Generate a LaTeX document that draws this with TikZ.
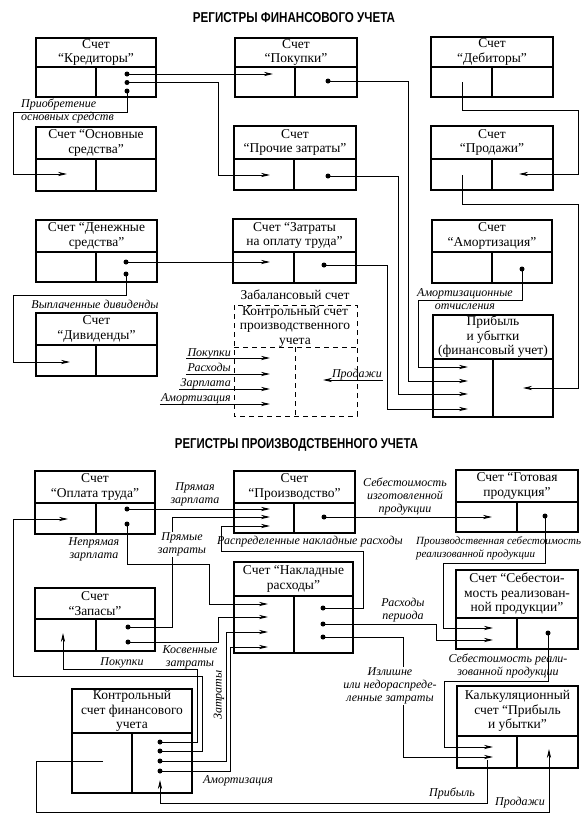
\documentclass[tikz,border=0pt]{standalone}
\usepackage{fontspec}
\setmainfont{Liberation Serif}
\newfontfamily\titlefont{Liberation Sans}
\usepackage{graphicx}
\usetikzlibrary{arrows.meta}
\tikzset{
 boxline/.style={line width=1.3pt},
 conn/.style={line width=0.8pt},
 arr/.style={conn,-{Stealth[length=9pt,width=4.2pt]}},
 dot/.style={circle,fill,inner sep=0pt,minimum size=5pt},
 boxtext/.style={align=center,font=\fontsize{13.5}{14.5}\selectfont,inner sep=0pt},
 lab/.style={align=center,font=\itshape\fontsize{12}{13}\selectfont,inner sep=1pt},
 wlab/.style={lab,fill=white},
 dashbox/.style={line width=0.8pt,dash pattern=on 5pt off 4pt},
 titlenode/.style={inner sep=0pt},
}
% name, x1, y1, x2, y2, y of header line, x of column line, text
\newcommand\acct[8]{%
 \draw[boxline] (#2,#3) rectangle (#4,#5);
 \draw[boxline] (#2,#6) -- (#4,#6) (#7,#6) -- (#7,#5);
 \node[boxtext] (#1) at ({(#2+#4)/2},{(#3+#6)/2}) {#8};
}
\begin{document}
\begin{tikzpicture}[x=1pt,y=-1pt]
\useasboundingbox (0,0) rectangle (587,820);
\fill[white] (0,0) rectangle (587,820);

%================ TOP =================
\node[titlenode] (title1) at (294,18) {\resizebox{202pt}{10pt}{\titlefont\bfseries РЕГИСТРЫ ФИНАНСОВОГО УЧЕТА}};

\acct{kred}{36}{38}{156}{97}{67}{96}{Счет\\“Кредиторы”}
\acct{pok}{235}{38}{357}{97}{67}{295}{Счет\\“Покупки”}
\acct{deb}{431}{37}{553}{97}{67}{492}{Счет\\“Дебиторы”}
\acct{osn}{36}{127}{156}{191}{159}{96}{Счет “Основные\\средства”}
\acct{proch}{234}{126}{356}{190}{159}{294}{Счет\\“Прочие затраты”}
\acct{prod}{431}{126}{553}{190}{159}{492}{Счет\\“Продажи”}
\acct{den}{36}{220}{157}{282}{252}{96}{Счет “Денежные\\средства”}
\acct{ztr}{233}{219}{356}{283}{252}{294}{Счет “Затраты\\на оплату труда”}
\acct{amo}{432}{220}{552}{283}{252}{492}{Счет\\“Амортизация”}
\acct{divd}{36}{313}{157}{376}{345}{96}{Счет\\“Дивиденды”}
\acct{pu}{433}{315}{553}{417}{359}{493}{Прибыль\\и убытки\\(финансовый учет)}

% dashed control account
\node (zabal) at (295,295) {\fontsize{13.5}{14.5}\selectfont Забалансовый счет};
\draw[dashbox] (234,305) rectangle (357,416);
\draw[dashbox] (234,347) -- (357,347);
\draw[dashbox] (295,347) -- (295,416);
\node[boxtext] (kps) at (295,326.5) {Контрольный счет\\производственного\\учета};

% dots
\node[dot] (kr1) at (127,74) {};
\node[dot] (kr2) at (127,82.5) {};
\node[dot] (kr3) at (127,91) {};
\node[dot] (pk1) at (328,81) {};
\node[dot] (pr1) at (328,176) {};
\node[dot] (zt1) at (324,265) {};
\node[dot] (am1) at (522,269) {};
\node[dot] (dn1) at (126,262) {};
\node[dot] (dn2) at (126,274) {};
\coordinate (db1) at (462,82);
\coordinate (pd1) at (462,175);

\draw[arr] (kr1.center) -- (273,74);
\draw[arr] (kr2.center) -- (218,82.5) -- (218,175) -- (270,175);
\draw[arr] (kr3.center) -- (127,112) -- (13,112) -- (13,174) -- (67,174);
\draw[arr] (pk1.center) -- (408,81) -- (408,381) -- (468,381);
\draw[arr] (pr1.center) -- (398,176) -- (398,394) -- (468,394);
\draw[arr] (zt1.center) -- (387,265) -- (387,409) -- (468,409);
\draw[arr] (am1.center) -- (522,300) -- (418,300) -- (418,367) -- (468,367);
\draw[arr] (db1) -- (462,110) -- (578,110) -- (578,174) -- (519,174);
\draw[arr] (pd1) -- (462,204) -- (578,204) -- (578,388) -- (523,388);
\draw[arr] (dn1.center) -- (270,262);
\draw[arr] (dn2.center) -- (126,295) -- (13,295) -- (13,362) -- (70,362);

\node[lab,align=left,anchor=west] (lpr) at (20,110.5) {Приобретение\\основных средств};
\node[lab] (lam) at (465,299) {Амортизационные\\отчисления};
\node[lab] (lvd) at (95,304) {Выплаченные дивиденды};

% inputs to dashed account
\node[lab,anchor=base east] (ip1) at (232,356) {Покупки};
\node[lab,anchor=base east] (ip2) at (232,371.5) {Расходы};
\node[lab,anchor=base east] (ip3) at (232,386.5) {Зарплата};
\node[lab,anchor=base east] (ip4) at (232,401.5) {Амортизация};
\coordinate (iy1) at (0,358);
\coordinate (iy2) at (0,374);
\coordinate (iy3) at (0,389);
\coordinate (iy4) at (0,404);
\draw[arr] (ip1.west |- iy1) -- (270,358);
\draw[arr] (ip2.west |- iy2) -- (270,374);
\draw[arr] (ip3.west |- iy3) -- (270,389);
\draw[arr] (ip4.west |- iy4) -- (270,404);
\node[lab,anchor=base east] (ipd) at (383,377.5) {Продажи};
\coordinate (iy5) at (0,380);
\draw[arr] (ipd.east |- iy5) -- (323,380);

%================ BOTTOM =================
\node[titlenode] (title2) at (296.5,445) {\resizebox{243pt}{10pt}{\titlefont\bfseries РЕГИСТРЫ ПРОИЗВОДСТВЕННОГО УЧЕТА}};

\acct{opl}{35}{471}{155}{534}{503}{96}{Счет\\“Оплата труда”}
\acct{proizv}{234}{471}{355}{533}{503}{294}{Счет\\“Производство”}
\acct{got}{456}{470}{578}{532}{502}{517}{Счет “Готовая\\продукция”}
\acct{zap}{35}{588}{155}{651}{619}{96}{Счет\\“Запасы”}
\acct{nakl}{234}{562}{353}{653}{596}{294}{Счет “Накладные\\расходы”}
\acct{seb}{456}{570}{578}{649}{618}{517}{Счет “Себестои-\\мость реализован-\\ной продукции”}
\acct{kontr}{72}{689}{192}{793}{733}{132}{Контрольный\\счет финансового\\учета}
\acct{kalk}{457}{686}{578}{768}{736}{517}{Калькуляционный\\счет “Прибыль\\и убытки”}

\node[dot] (op1) at (127,509) {};
\node[dot] (op2) at (127,524) {};
\node[dot] (zp1) at (128,627) {};
\node[dot] (zp2) at (128,642) {};
\node[dot] (pz1) at (324,517) {};
\node[dot] (nk1) at (323,608) {};
\node[dot] (nk2) at (323,624) {};
\node[dot] (nk3) at (323,637) {};
\node[dot] (gt1) at (545,516) {};
\node[dot] (sb1) at (548,633) {};
\node[dot] (kf1) at (160,742) {};
\node[dot] (kf2) at (160,751) {};
\node[dot] (kf3) at (160,761) {};
\node[dot] (kf4) at (160,771) {};
\coordinate (kl1) at (487,760);
\coordinate (kfl) at (103,761);

\draw[arr] (op1.center) -- (270,509);
\draw[arr] (op2.center) -- (127,564) -- (209,564) -- (209,604) -- (268,604);
\draw[arr] (zp1.center) -- (172,627) -- (172,517) -- (270,517);
\draw[arr] (zp2.center) -- (218,642) -- (218,617) -- (268,617);
\draw[arr] (pz1.center) -- (492,517);
\draw[arr] (nk1.center) -- (363,608) -- (363,551) -- (221,551) -- (221,526) -- (270,526);
\draw[arr] (nk2.center) -- (436,624) -- (436,640) -- (493,640);
\draw[arr] (nk3.center) -- (403,637) -- (403,757) -- (493,757);
\draw[arr] (gt1.center) -- (545,563) -- (443,563) -- (443,628) -- (493,628);
\draw[arr] (sb1.center) -- (548,681) -- (444,681) -- (444,747) -- (493,747);
\draw[arr] (kf1.center) -- (197,742) -- (197,669) -- (63,669) -- (63,633);
\draw[arr] (kf2.center) -- (202,751) -- (202,676) -- (13,676) -- (13,519) -- (68,519);
\draw[arr] (kf3.center) -- (226,761) -- (226,632) -- (268,632);
\draw[arr] (kf4.center) -- (230,771) -- (230,647) -- (268,647);
\draw[arr] (kl1) -- (487,803) -- (160,803) -- (160,780);
\draw[arr] (kfl) -- (36,761) -- (36,812) -- (549,812) -- (549,749);

\node[lab] (lpz) at (195,494.5) {Прямая\\зарплата};
\node[lab] (lnz) at (94,549.5) {Непрямая\\зарплата};
\node[wlab] (lpzt) at (182,544.5) {Прямые\\затраты};
\node[lab] (lkz) at (190,657) {Косвенные\\затраты};
\node[lab] (lsiz) at (405,496) {Себестоимость\\изготовленной\\продукции};
\node[lab] (lrnr) at (310,542) {Распределенные накладные расходы};
\node[lab] (lrp) at (403,610.5) {Расходы\\периода};
\node[wlab] (lizl) at (390,686) {Излишне\\или недораспреде-\\ленные затраты};
\node[lab,align=left,anchor=west,font=\itshape\fontsize{11}{13}\selectfont] (lpsr) at (415,548.5) {Производственная себестоимость\\реализованной продукции};
\node[lab] (lsr) at (508,665.5) {Себестоимость реали-\\зованной продукции};
\node[lab] (lpk) at (122,663) {Покупки};
\node[lab,rotate=90] (lzt) at (219,695) {Затраты};
\node[lab] (lam2) at (238,781) {Амортизация};
\node[lab] (lpb) at (452,793) {Прибыль};
\node[lab] (lpd) at (520,803) {Продажи};
\end{tikzpicture}
\end{document}
